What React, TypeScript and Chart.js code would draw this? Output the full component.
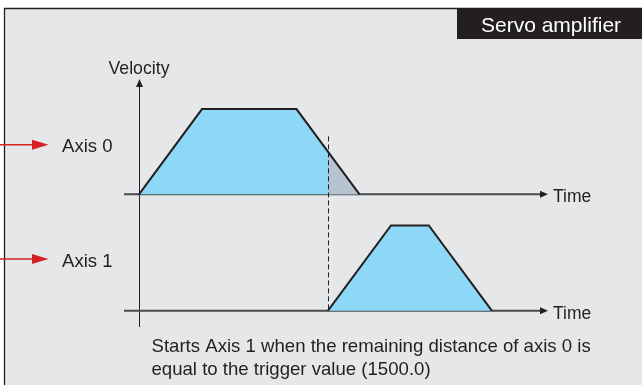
import React, { useEffect, useRef } from "react";
import { Chart, registerables } from "chart.js";

Chart.register(...registerables);

// ---- data ----
const axis0Time = [0, 2, 5, 7];
const axis0Velocity = [0, 100, 100, 0];
const axis1Time = [6, 8, 9.2, 11.2];
const axis1Velocity = [0, 100, 100, 0];
const remainTime = [6, 7];
const remainVelocity = [50, 0];
const triggerTime = 6;
const axisLabels = ["Axis 0", "Axis 1"];
const timeLabel = "Time";
const velocityLabel = "Velocity";
const headerLabel = "Servo amplifier";
const noteLines = [
  "Starts Axis 1 when the remaining distance of axis 0 is",
  "equal to the trigger value (1500.0)",
];

const FONT = "'Liberation Sans', Arial, sans-serif";
const INK = "#231f20";
const BLUE = "#8dd8f7";
const GREY = "#b8c3d1";
const RED = "#d71f26";

const toPts = (xs: number[], ys: number[]) => xs.map((x, i) => ({ x, y: ys[i] }));

const decor = {
  id: "decor",
  beforeDraw(chart: any) {
    const { ctx, width, height } = chart;
    const xs = chart.scales.x;
    const y0 = chart.scales.y0;
    const y1 = chart.scales.y1;
    ctx.save();
    ctx.fillStyle = "#ffffff";
    ctx.fillRect(0, 0, width, height);
    ctx.fillStyle = "#e6e7e8";
    ctx.fillRect(4, 8, width - 4, height - 8);
    ctx.strokeStyle = INK;
    ctx.lineWidth = 1.3;
    ctx.beginPath();
    ctx.moveTo(4.5, height);
    ctx.lineTo(4.5, 8.5);
    ctx.lineTo(width, 8.5);
    ctx.stroke();
    // header box
    ctx.fillStyle = INK;
    ctx.fillRect(457, 8, width - 457, 31);

    // velocity axis
    const ox = xs.getPixelForValue(0);
    ctx.strokeStyle = INK;
    ctx.lineWidth = 1;
    ctx.beginPath();
    ctx.moveTo(Math.round(ox) + 0.5, 85);
    ctx.lineTo(Math.round(ox) + 0.5, 327);
    ctx.stroke();
    ctx.beginPath();
    ctx.moveTo(Math.round(ox) + 0.5, 79);
    ctx.lineTo(Math.round(ox) - 3, 87);
    ctx.lineTo(Math.round(ox) + 4, 87);
    ctx.closePath();
    ctx.fill();

    // time axes
    [y0, y1].forEach((s: any) => {
      const yb = s.getPixelForValue(0);
      ctx.strokeStyle = "#4a4a4c";
      ctx.lineWidth = 2;
      ctx.beginPath();
      ctx.moveTo(124, yb);
      ctx.lineTo(542, yb);
      ctx.stroke();
      ctx.fillStyle = INK;
      ctx.beginPath();
      ctx.moveTo(548, yb);
      ctx.lineTo(540, yb - 3.5);
      ctx.lineTo(540, yb + 3.5);
      ctx.closePath();
      ctx.fill();
    });
    ctx.restore();
  },
  afterDatasetsDraw(chart: any) {
    const { ctx } = chart;
    const xs = chart.scales.x;
    const y0 = chart.scales.y0;
    const y1 = chart.scales.y1;
    const tx = Math.round(xs.getPixelForValue(triggerTime)) + 0.5;
    ctx.save();
    ctx.strokeStyle = INK;
    ctx.lineWidth = 1;
    ctx.setLineDash([5, 3]);
    ctx.beginPath();
    ctx.moveTo(tx, y0.getPixelForValue(68));
    ctx.lineTo(tx, y1.getPixelForValue(0));
    ctx.stroke();
    ctx.restore();
  },
  afterDraw(chart: any) {
    const { ctx } = chart;
    const xs = chart.scales.x;
    const y0 = chart.scales.y0;
    const y1 = chart.scales.y1;
    const ox = xs.getPixelForValue(0);
    ctx.save();
    // red arrows + axis labels
    const arrowYs = [144.7, 259];
    arrowYs.forEach((ay, i) => {
      ctx.strokeStyle = RED;
      ctx.lineWidth = 1.5;
      ctx.beginPath();
      ctx.moveTo(0, ay);
      ctx.lineTo(35, ay);
      ctx.stroke();
      ctx.fillStyle = RED;
      ctx.beginPath();
      ctx.moveTo(48.5, ay);
      ctx.lineTo(32, ay - 5);
      ctx.lineTo(32, ay + 5);
      ctx.closePath();
      ctx.fill();
      ctx.fillStyle = INK;
      ctx.font = `18.6px ${FONT}`;
      ctx.textAlign = "left";
      ctx.textBaseline = "alphabetic";
      ctx.fillText(axisLabels[i], 62, ay + 7.5);
    });
    // header
    ctx.fillStyle = "#ffffff";
    ctx.font = `21px ${FONT}`;
    ctx.textAlign = "left";
    ctx.fillText(headerLabel, 481, 31.5);
    // velocity
    ctx.fillStyle = INK;
    ctx.font = `17.7px ${FONT}`;
    ctx.textAlign = "center";
    ctx.fillText(velocityLabel, ox, 73.5);
    // time labels
    ctx.font = `17.5px ${FONT}`;
    ctx.textAlign = "left";
    [y0, y1].forEach((s: any) => {
      const yb = s.getPixelForValue(0);
      ctx.fillText(timeLabel, 553, yb + 7.8);
    });
    // note
    ctx.font = `18.6px ${FONT}`;
    noteLines.forEach((l, i) => ctx.fillText(l, 151.5, 351.7 + i * 22.8));
    ctx.restore();
  },
};

export default function App() {
  const ref = useRef<HTMLCanvasElement>(null);
  useEffect(() => {
    if (!ref.current) return;
    const W = 642;
    const H = 385;
    const originX = 139;
    const pxPerT = 31.5;
    const pxPerV = 0.852;
    const base0 = 194.3;
    const base1 = 310.7;
    const chart = new Chart(ref.current, {
      type: "scatter",
      data: {
        datasets: [
          {
            data: toPts(remainTime, remainVelocity),
            yAxisID: "y0",
            showLine: true,
            borderWidth: 0,
            borderColor: "rgba(0,0,0,0)",
            backgroundColor: GREY,
            fill: "origin",
            pointRadius: 0,
          },
          {
            data: toPts(axis0Time, axis0Velocity),
            yAxisID: "y0",
            showLine: true,
            borderWidth: 2,
            borderColor: INK,
            backgroundColor: BLUE,
            fill: "origin",
            pointRadius: 0,
          },
          {
            data: toPts(axis1Time, axis1Velocity),
            yAxisID: "y1",
            showLine: true,
            borderWidth: 2,
            borderColor: INK,
            backgroundColor: BLUE,
            fill: "origin",
            pointRadius: 0,
          },
        ],
      },
      options: {
        responsive: false,
        animation: false,
        events: [],
        layout: { padding: 0 },
        plugins: {
          legend: { display: false },
          tooltip: { enabled: false },
          filler: { drawTime: "beforeDatasetsDraw" },
        },
        scales: {
          x: {
            type: "linear",
            display: false,
            min: -originX / pxPerT,
            max: (W - originX) / pxPerT,
          },
          y0: {
            type: "linear",
            display: false,
            min: -(H - base0) / pxPerV,
            max: base0 / pxPerV,
          },
          y1: {
            type: "linear",
            display: false,
            min: -(H - base1) / pxPerV,
            max: base1 / pxPerV,
          },
        },
      },
      plugins: [decor],
    } as any);
    return () => chart.destroy();
  }, []);
  return (
    <div style={{ position: "absolute", left: 0, top: 0, width: 642, height: 385 }}>
      <canvas ref={ref} width={642} height={385} style={{ display: "block" }} />
    </div>
  );
}
